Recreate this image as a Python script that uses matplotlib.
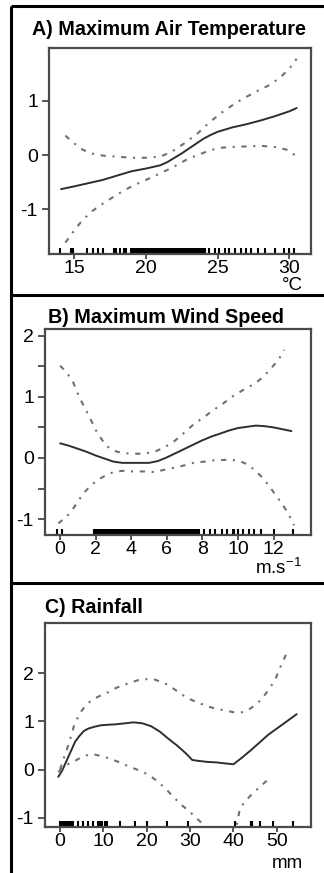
import numpy as np
import matplotlib
matplotlib.use('Agg')
import matplotlib.pyplot as plt
from matplotlib.lines import Line2D
from matplotlib.ticker import FixedLocator

plt.rcParams['font.family'] = ['Liberation Sans', 'DejaVu Sans']
plt.rcParams['mathtext.fontset'] = 'custom'
plt.rcParams['mathtext.rm'] = 'Liberation Sans'
plt.rcParams['mathtext.default'] = 'rm'

# A) maximum air temperature (deg C)
temp_fit_x = [14.1, 15, 16, 17, 18, 19, 20, 21, 21.5, 22, 22.5, 23, 23.5, 24, 24.5, 25, 26, 27, 28, 29, 30, 30.5]
temp_fit_y = [-0.63, -0.58, -0.52, -0.46, -0.38, -0.30, -0.25, -0.19, -0.13, -0.05, 0.03, 0.12, 0.21, 0.30, 0.37, 0.43, 0.51, 0.57, 0.64, 0.72, 0.81, 0.87]
temp_up_x = [14.4, 15, 15.6, 16.2, 17, 18, 19, 20, 21, 21.8, 22.7, 23.6, 24.5, 25.5, 26.5, 27.5, 28.5, 29.3, 30, 30.5]
temp_up_y = [0.36, 0.22, 0.10, 0.03, -0.01, -0.03, -0.05, -0.05, -0.03, 0.06, 0.22, 0.40, 0.62, 0.83, 1.00, 1.15, 1.28, 1.42, 1.60, 1.78]
temp_lo_x = [14.4, 15, 15.6, 16.3, 17, 18, 19, 20, 21, 22, 22.8, 23.5, 24.2, 25, 26, 27, 28, 29, 29.8, 30.5]
temp_lo_y = [-1.62, -1.40, -1.20, -1.03, -0.90, -0.73, -0.58, -0.46, -0.34, -0.21, -0.09, -0.01, 0.06, 0.13, 0.15, 0.16, 0.17, 0.15, 0.10, -0.02]
temp_rug = [14.0, 14.8, 14.9, 15.9, 16.3, 16.7, 17.0, 17.8, 17.9, 18.2, 18.5, 18.6,
            19.0, 19.1, 19.2, 19.3, 19.4, 19.5, 19.6, 19.7, 19.8, 19.9,
            20.0, 20.1, 20.2, 20.3, 20.4, 20.5, 20.6, 20.7, 20.8, 20.9,
            21.0, 21.1, 21.2, 21.3, 21.4, 21.5, 21.6, 21.7, 21.8, 21.9,
            22.0, 22.1, 22.2, 22.3, 22.4, 22.5, 22.6, 22.7, 22.8, 22.9,
            23.0, 23.1, 23.2, 23.3, 23.4, 23.5, 23.6, 23.7, 23.8, 23.9, 24.0, 24.1,
            24.4, 24.8, 25.1, 25.5, 25.8, 26.2, 26.6, 27.0, 27.3, 27.8, 28.3, 29.0, 29.6, 30.0, 30.3]

# B) maximum wind speed (m/s)
wind_fit_x = [0, 0.5, 1, 1.5, 2, 2.5, 3, 3.5, 4, 4.5, 5, 5.5, 6, 6.5, 7, 7.5, 8, 8.5, 9, 9.5, 10, 10.5, 11, 11.5, 12, 12.5, 13]
wind_fit_y = [0.24, 0.20, 0.15, 0.10, 0.04, -0.01, -0.06, -0.08, -0.08, -0.08, -0.08, -0.05, 0.01, 0.08, 0.15, 0.22, 0.29, 0.35, 0.40, 0.45, 0.49, 0.51, 0.53, 0.52, 0.50, 0.47, 0.44]
wind_up_x = [0, 0.3, 0.7, 1.1, 1.6, 2.1, 2.6, 3.0, 3.5, 4.1, 4.7, 5.3, 5.9, 6.4, 7.0, 7.5, 8.0, 8.6, 9.2, 9.8, 10.4, 10.9, 11.4, 11.9, 12.3, 12.6]
wind_up_y = [1.51, 1.42, 1.26, 0.98, 0.70, 0.40, 0.20, 0.12, 0.08, 0.07, 0.07, 0.10, 0.18, 0.27, 0.42, 0.55, 0.65, 0.78, 0.90, 1.03, 1.13, 1.21, 1.32, 1.48, 1.62, 1.77]
wind_lo_x = [-0.1, 0.4, 0.8, 1.3, 1.7, 2.1, 2.6, 3.0, 3.5, 4.1, 4.7, 5.3, 5.9, 6.4, 7.0, 7.5, 8.1, 8.6, 9.3, 10.0, 10.5, 10.9, 11.3, 11.7, 12.1, 12.5, 12.8, 13.15]
wind_lo_y = [-1.07, -0.95, -0.80, -0.58, -0.46, -0.36, -0.28, -0.23, -0.21, -0.22, -0.22, -0.23, -0.19, -0.16, -0.12, -0.08, -0.06, -0.04, -0.03, -0.04, -0.10, -0.19, -0.30, -0.44, -0.60, -0.76, -0.90, -1.10]
wind_rug = [-0.2, 0.1,
            1.9, 2.0, 2.1, 2.2, 2.3, 2.4, 2.5, 2.6, 2.7, 2.8, 2.9,
            3.0, 3.1, 3.2, 3.3, 3.4, 3.5, 3.6, 3.7, 3.8, 3.9,
            4.0, 4.1, 4.2, 4.3, 4.4, 4.5, 4.6, 4.7, 4.8, 4.9,
            5.0, 5.1, 5.2, 5.3, 5.4, 5.5, 5.6, 5.7, 5.8, 5.9,
            6.0, 6.1, 6.2, 6.3, 6.4, 6.5, 6.6, 6.7, 6.8, 6.9,
            7.0, 7.1, 7.2, 7.3, 7.4, 7.5, 7.6, 7.7, 7.8,
            8.1, 8.4, 8.7, 9.1, 9.4, 9.7, 9.8, 10.0, 10.3, 10.6, 10.9, 11.3, 12.0, 13.1]

# C) rainfall (mm)
rain_fit_x = [-0.4, 0.5, 1.5, 2.5, 3.5, 4.5, 5.5, 6.5, 8, 9.5, 11, 13, 15, 17, 19, 21, 23, 25, 27, 29, 30.5, 32, 34, 36, 38, 40, 42, 44, 46, 48, 50, 52, 54.6]
rain_fit_y = [-0.15, -0.02, 0.18, 0.38, 0.58, 0.70, 0.80, 0.85, 0.89, 0.92, 0.93, 0.94, 0.96, 0.98, 0.96, 0.90, 0.79, 0.64, 0.50, 0.34, 0.20, 0.18, 0.16, 0.15, 0.13, 0.11, 0.25, 0.40, 0.56, 0.72, 0.85, 0.98, 1.15]
rain_up_x = [0, 0.8, 1.6, 2.4, 3.2, 4.0, 5.0, 6.2, 7.5, 9.2, 11, 13.1, 15.5, 18.5, 21.5, 24.6, 27, 29.2, 31.5, 33.8, 36, 38.5, 40.5, 42, 43.8, 45.4, 47, 48.5, 49.8, 50.8, 51.8, 52.7]
rain_up_y = [0.0, 0.22, 0.42, 0.65, 0.90, 1.06, 1.22, 1.36, 1.45, 1.53, 1.60, 1.70, 1.78, 1.87, 1.88, 1.77, 1.63, 1.49, 1.40, 1.32, 1.26, 1.22, 1.18, 1.19, 1.26, 1.36, 1.52, 1.70, 1.90, 2.12, 2.32, 2.50]
rain_lo_x = [-0.4, 0.5, 1.2, 2.2, 3.1, 4.2, 5.4, 6.8, 8.1, 10, 12, 13.8, 15.5, 17.5, 19.2, 20.8, 22.3, 24.2, 26.2, 28, 30, 32, 35, 38, 40.5, 41.5, 43, 44.6, 46.2, 47.7]
rain_lo_y = [-0.05, 0.02, 0.08, 0.13, 0.16, 0.22, 0.28, 0.31, 0.31, 0.27, 0.21, 0.15, 0.08, 0.01, -0.05, -0.13, -0.23, -0.38, -0.57, -0.73, -0.88, -1.05, -1.30, -1.40, -1.30, -0.80, -0.63, -0.48, -0.35, -0.23]
rain_rug = [0.0, 0.2, 0.4, 0.6, 0.8, 1.0, 1.2, 1.4, 1.6, 1.8, 2.0, 2.2, 2.4, 2.6, 2.8, 3.0,
            4.2, 5.4, 6.5, 7.7, 8.8, 9.3, 9.8, 10.3, 10.8, 13.8, 17.3, 20.0, 24.6, 29.6,
            40.4, 44.0, 44.2, 44.4, 46.2, 49.2, 53.8]

W, H = 324, 873
fig = plt.figure(figsize=(W / 100, H / 100), dpi=100)
fig.patch.set_facecolor('white')

def px_axes(left, top, right, bottom):
    return fig.add_axes([left / W, 1 - bottom / H, (right - left) / W, (bottom - top) / H])

panels = [
    dict(box=(49, 48, 311, 254), title='A) Maximum Air Temperature', tx=32, ty=35,
         fit=(temp_fit_x, temp_fit_y), up=(temp_up_x, temp_up_y), lo=(temp_lo_x, temp_lo_y),
         rug=temp_rug, xlim=(13.26, 31.5), ylim=(-1.83, 1.98),
         xticks=[15, 20, 25, 30], yticks=[-1, 0, 1], yminor=[],
         unit='°C', ux=303, uy=290),
    dict(box=(45, 329, 311, 535), title='B) Maximum Wind Speed', tx=48, ty=323,
         fit=(wind_fit_x, wind_fit_y), up=(wind_up_x, wind_up_y), lo=(wind_lo_x, wind_lo_y),
         rug=wind_rug, xlim=(-0.85, 14.1), ylim=(-1.26, 2.11),
         xticks=[0, 2, 4, 6, 8, 10, 12], yticks=[-1, 0, 1, 2], yminor=[-0.5, 0.5, 1.5],
         unit='m.s$^{-1}$', ux=302, uy=574),
    dict(box=(45, 623, 311, 827), title='C) Rainfall', tx=45, ty=613,
         fit=(rain_fit_x, rain_fit_y), up=(rain_up_x, rain_up_y), lo=(rain_lo_x, rain_lo_y),
         rug=rain_rug, xlim=(-3.46, 57.9), ylim=(-1.19, 3.04),
         xticks=[0, 10, 20, 30, 40, 50], yticks=[-1, 0, 1, 2], yminor=[],
         unit='mm', ux=303, uy=868),
]

spine_col = '#4a4a4a'
ci_style = dict(color='#707070', lw=1.5, dashes=(2.5, 3.2, 1.0, 3.2))

for p in panels:
    ax = px_axes(*p['box'])
    ax.plot(*p['fit'], color='#2e2e2e', lw=1.4, solid_capstyle='round')
    ax.plot(*p['up'], **ci_style)
    ax.plot(*p['lo'], **ci_style)
    # rug of observed values along the bottom
    ax.vlines(p['rug'], 0, 0.028, transform=ax.get_xaxis_transform(),
              color='black', lw=1.5)
    ax.set_xlim(*p['xlim'])
    ax.set_ylim(*p['ylim'])
    ax.set_xticks(p['xticks'])
    ax.set_yticks(p['yticks'])
    ax.set_yticklabels([str(v) for v in p['yticks']])
    if p['yminor']:
        ax.yaxis.set_minor_locator(FixedLocator(p['yminor']))
        ax.tick_params(axis='y', which='minor', length=5, width=1.3, color=spine_col)
    ax.tick_params(axis='x', length=3.5, width=1.3, pad=0.5, labelsize=14, color=spine_col)
    ax.tick_params(axis='y', which='major', length=5, width=1.3, pad=3, labelsize=14, color=spine_col)
    for s in ax.spines.values():
        s.set_color(spine_col)
        s.set_linewidth(1.6)
    fig.text(p['tx'] / W, 1 - p['ty'] / H, p['title'], fontsize=14.2,
             fontweight='bold', ha='left', va='baseline')
    fig.text(p['ux'] / W, 1 - p['uy'] / H, p['unit'], fontsize=13.5,
             ha='right', va='baseline')

# outer frame: left edge, top edge and the two panel dividers
frame = dict(color='black', lw=2.2, transform=fig.transFigure, solid_capstyle='butt')
fig.add_artist(Line2D([11 / W, 11 / W], [0, 1 - 6 / H], **frame))
for yy in (6, 295, 583):
    fig.add_artist(Line2D([11 / W, 1], [1 - yy / H, 1 - yy / H], **frame))

fig.savefig('out.png', dpi=100, facecolor='white')
